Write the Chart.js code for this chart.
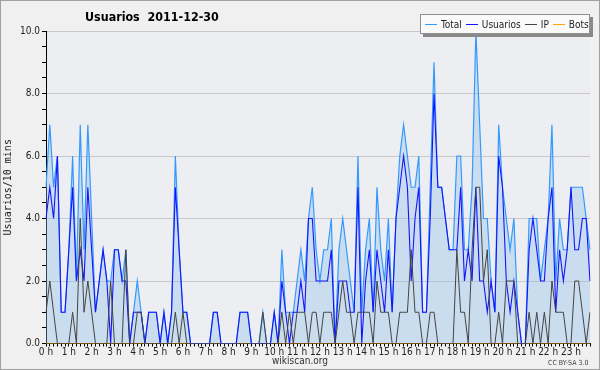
<!DOCTYPE html>
<html><head><meta charset="utf-8">
<script src="https://cdn.jsdelivr.net/npm/chart.js@4.4.1/dist/chart.umd.min.js"></script>
<style>
html,body{margin:0;padding:0;background:#f0f0f0;}
#wrap{position:relative;width:600px;height:370px;overflow:hidden;background:#f0f0f0;}
canvas{position:absolute;left:0;top:0;}
#frame{position:absolute;left:0;top:0;width:600px;height:370px;box-sizing:border-box;border:1px solid #a0a0a0;pointer-events:none;}
#title{position:absolute;left:85px;top:9px;font:bold 12.4px 'DejaVu Sans Condensed','DejaVu Sans',sans-serif;color:#000;white-space:pre;}
#legend{position:absolute;left:420px;top:14px;width:170px;height:20px;box-sizing:border-box;border:1px solid #909090;background:#fafafa;box-shadow:3px 3px 0 #8a8a8a;display:flex;align-items:center;padding-left:4px;font:10px 'Liberation Sans Narrow','DejaVu Sans Condensed','DejaVu Sans',sans-serif;color:#222;white-space:nowrap;}
#legend .sw{display:inline-block;width:12px;height:1px;margin-right:4px;vertical-align:middle;}
#legend .it{margin-right:4px;display:flex;align-items:center;}
#foot{position:absolute;left:0;width:600px;top:355px;text-align:center;font:10px 'Liberation Sans Narrow','DejaVu Sans Condensed','DejaVu Sans',sans-serif;color:#333;}
#cc{position:absolute;left:548px;top:359px;font:7px 'Liberation Sans Narrow','DejaVu Sans Condensed','DejaVu Sans',sans-serif;color:#444;}
</style></head>
<body><div id="wrap">
<canvas id="c" width="600" height="370"></canvas>
<div id="title">Usuarios  2011-12-30</div>
<div id="legend">
 <span class="it"><span class="sw" style="background:#3399ff"></span>Total</span>
 <span class="it"><span class="sw" style="background:#1414ff"></span>Usuarios</span>
 <span class="it"><span class="sw" style="background:#444"></span>IP</span>
 <span class="it"><span class="sw" style="background:#ffa500"></span>Bots</span>
</div>
<div id="foot">wikiscan.org</div>
<div id="cc">CC BY-SA 3.0</div>
<div id="frame"></div>
</div>
<script>
const hours = ['0 h','1 h','2 h','3 h','4 h','5 h','6 h','7 h','8 h','9 h','10 h','11 h','12 h','13 h','14 h','15 h','16 h','17 h','18 h','19 h','20 h','21 h','22 h','23 h'];
const slotsPerHour = 6;

const total = [
 5,7,5,6,1,1,  3,6,2,7,3,7,  4,1,2,3,2,2,  3,3,2,3,0,1,
 2,1,0,1,1,1,  0,1,0,1,6,3,  1,1,0,0,0,0,  0,0,1,1,0,0,
 0,0,0,1,1,1,  0,0,0,1,0,0,  1,0,3,1,1,1,  2,3,2,4,5,3,
 2,3,3,4,0,3,  4,3,2,1,6,1,  3,4,1,5,3,2,  4,1,4,6,7,6,
 5,5,6,1,1,5,  9,5,5,4,3,3,  6,6,3,3,5,10, 7,4,4,2,1,7,
 5,4,3,4,1,0,  0,4,4,4,2,3,  4,7,2,4,3,3,  5,5,5,5,4,3
];
const usuarios = [
 4,5,4,6,1,1,  3,5,2,3,2,5,  3,1,2,3,2,0,  3,3,2,2,0,1,
 1,1,0,1,1,1,  0,1,0,1,5,3,  1,1,0,0,0,0,  0,0,1,1,0,0,
 0,0,0,1,1,1,  0,0,0,0,0,0,  1,0,2,1,0,1,  1,2,1,4,4,2,
 2,2,2,3,0,2,  2,2,1,1,5,0,  2,3,1,3,2,1,  3,1,4,5,6,5,
 2,4,5,1,1,4,  8,5,5,4,3,3,  3,5,2,3,2,5,  2,2,1,2,1,6,
 5,2,1,2,1,0,  0,3,4,3,2,2,  4,5,1,3,2,3,  5,3,3,4,4,2
];
const ip = [
 1,2,1,0,0,0,  0,1,0,4,1,2,  1,0,0,0,0,2,  0,0,0,3,0,0,
 1,1,0,0,0,0,  0,0,0,0,1,0,  1,0,0,0,0,0,  0,0,0,0,0,0,
 0,0,0,0,0,0,  0,0,0,1,0,0,  0,0,1,0,1,0,  1,1,1,0,1,1,
 0,1,1,1,0,1,  2,1,1,0,1,1,  1,1,0,2,1,1,  1,0,0,1,1,1,
 3,1,1,0,0,1,  1,0,0,0,0,0,  3,1,1,0,3,5,  5,2,3,0,0,1,
 0,2,2,2,0,0,  0,1,0,1,0,1,  0,2,1,1,1,0,  0,2,2,1,0,1
];
const bots = [
 0,0,0,0,0,0,  0,0,0,0,0,0,  0,0,0,0,0,0,  0,0,0,0,0,0,
 0,0,0,0,0,0,  0,0,0,0,0,0,  0,0,0,0,0,0,  0,0,0,0,0,0,
 0,0,0,0,0,0,  0,0,0,0,0,0,  0,0,0,0,0,0,  0,0,0,0,0,0,
 0,0,0,0,0,0,  0,0,0,0,0,0,  0,0,0,0,0,0,  0,0,0,0,0,0,
 0,0,0,0,0,0,  0,0,0,0,0,0,  0,0,0,0,0,0,  0,0,0,0,0,0,
 0,0,0,0,0,0,  0,0,0,0,0,0,  0,0,0,0,0,0,  0,0,0,0,0,0
];
const yTickLabels = ['0.0','2.0','4.0','6.0','8.0','10.0'];

const categories = [];
hours.forEach(h => { for (let k = 0; k < slotsPerHour; k++) categories.push(k === 0 ? h : ''); });

const NARROW = "'Liberation Sans Narrow','DejaVu Sans Condensed','DejaVu Sans',sans-serif";

const plotBg = {
  id: 'plotBg',
  beforeDraw(chart) {
    const a = chart.chartArea, ctx = chart.ctx;
    ctx.save(); ctx.fillStyle = '#edeef1';
    ctx.fillRect(a.left, a.top, a.right - a.left, a.bottom - a.top);
    ctx.restore();
  }
};

new Chart(document.getElementById('c'), {
  type: 'line',
  data: {
    labels: categories,
    datasets: [
      { label: 'Bots', data: bots, borderColor: '#ffa500', borderWidth: 1, pointRadius: 0, fill: false, order: 4 },
      { label: 'Total', data: total, borderColor: '#3399ff', borderWidth: 1.2, pointRadius: 0,
        fill: 'origin', backgroundColor: 'rgba(140,190,235,0.36)', order: 3 },
      { label: 'Usuarios', data: usuarios, borderColor: '#1414ff', borderWidth: 1.1, pointRadius: 0, fill: false, order: 2 },
      { label: 'IP', data: ip, borderColor: '#444444', borderWidth: 1, pointRadius: 0, fill: false, order: 1 }
    ]
  },
  options: {
    responsive: false, animation: false, devicePixelRatio: 1,
    layout: { padding: { left: 0, top: 31, right: 10, bottom: 0 } },
    elements: { line: { tension: 0 } },
    plugins: { legend: { display: false }, tooltip: { enabled: false } },
    scales: {
      x: {
        type: 'category', offset: false, z: 1,
        afterFit: s => { s.height = 26.5; },
        border: { display: true, color: '#000', width: 1 },
        grid: { display: true, drawOnChartArea: false, color: '#000', tickLength: 3, offset: false },
        ticks: { autoSkip: false, maxRotation: 0, minRotation: 0, padding: 0, color: '#222',
          font: { family: NARROW, size: 10 },
          callback: function(v) { return this.getLabelForValue(v); } }
      },
      y: {
        min: 0, max: 10,
        afterFit: s => { s.width = 46; },
        border: { display: true, color: '#000', width: 1 },
        grid: { color: c => (c.tick && Math.abs(c.tick.value % 2) < 1e-9) ? '#c8c8c8' : 'rgba(0,0,0,0)',
                tickColor: '#000', tickLength: 4 },
        ticks: { stepSize: 0.5, padding: 2, color: '#222', font: { family: NARROW, size: 10 },
          callback: v => (Math.abs(v % 2) < 1e-9) ? yTickLabels[Math.round(v / 2)] : '' },
        title: { display: true, text: 'Usuarios/10 mins', color: '#222',
          font: { family: "'DejaVu Sans Mono',monospace", size: 10 }, padding: { top: 2, bottom: 0 } }
      }
    }
  },
  plugins: [plotBg]
});
</script>
</body></html>
